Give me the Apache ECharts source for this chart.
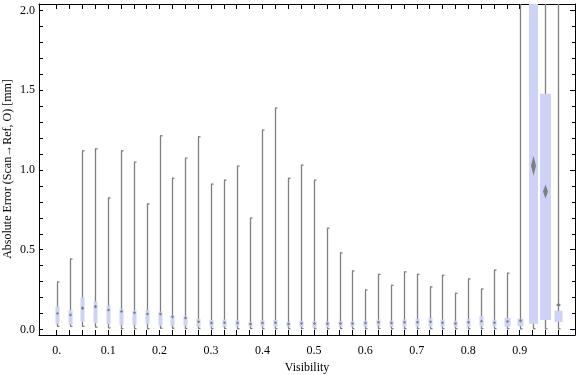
<!DOCTYPE html>
<html>
<head>
<meta charset="utf-8">
<script src="https://cdn.jsdelivr.net/npm/echarts@6/dist/echarts.min.js"></script>
<style>
  html, body { margin: 0; background: #fff; }
  #chart { width: 576px; height: 375px; }
</style>
</head>
<body>
<div id="chart"></div>
<script>
// box-whisker summary per visibility bin
const visibility = [0, 0.025, 0.05, 0.075, 0.1, 0.125, 0.15, 0.175, 0.2, 0.225,
  0.25, 0.275, 0.3, 0.325, 0.35, 0.375, 0.4, 0.425, 0.45, 0.475,
  0.5, 0.525, 0.55, 0.575, 0.6, 0.625, 0.65, 0.675, 0.7, 0.725,
  0.75, 0.775, 0.8, 0.825, 0.85, 0.875, 0.9, 0.925, 0.95, 0.975];
const whiskerMin = [0.02, 0.02, 0.02, 0.015, 0.01, 0.005, 0.005, 0.005, 0.008, 0.008,
  0.006, 0.006, 0.005, 0.006, 0.005, 0.006, 0.005, 0.005, 0.005, 0.006,
  0.004, 0.005, 0.006, 0.005, 0.005, 0.006, 0.005, 0.005, 0.005, 0.005,
  0.005, 0.005, 0.004, 0.005, 0.005, 0.005, 0.004, 0.005, 0.004, 0.004];
const q1 = [0.035, 0.033, 0.049, 0.039, 0.035, 0.028, 0.028, 0.033, 0.024, 0.024,
  0.022, 0.018, 0.016, 0.018, 0.018, 0.018, 0.018, 0.018, 0.018, 0.016,
  0.011, 0.014, 0.018, 0.018, 0.018, 0.024, 0.018, 0.018, 0.018, 0.018,
  0.018, 0.016, 0.016, 0.018, 0.018, 0.018, 0.022, 0.036, 0.06, 0.047];
const q3 = [0.143, 0.122, 0.2, 0.175, 0.149, 0.13, 0.122, 0.122, 0.112, 0.091,
  0.087, 0.066, 0.06, 0.062, 0.058, 0.047, 0.058, 0.06, 0.047, 0.053,
  0.053, 0.05, 0.053, 0.053, 0.056, 0.062, 0.056, 0.064, 0.066, 0.072,
  0.062, 0.055, 0.066, 0.085, 0.062, 0.072, 0.068, 2.4, 1.477, 0.118];
const whiskerMax = [0.298, 0.442, 1.12, 1.132, 0.825, 1.12, 1.049, 0.787, 1.214, 0.948,
  1.074, 1.208, 0.911, 0.936, 1.024, 0.698, 1.25, 1.388, 0.948, 1.03,
  0.936, 0.635, 0.48, 0.367, 0.248, 0.346, 0.277, 0.361, 0.346, 0.267,
  0.34, 0.227, 0.317, 0.254, 0.373, 0.353, 2.6, 2.9, 2.5, 2.7];
const means = [0.1, 0.091, 0.133, 0.143, 0.122, 0.112, 0.105, 0.097, 0.097, 0.08,
  0.072, 0.049, 0.04, 0.042, 0.04, 0.035, 0.04, 0.042, 0.035, 0.038,
  0.037, 0.036, 0.037, 0.037, 0.04, 0.045, 0.04, 0.045, 0.045, 0.048,
  0.042, 0.038, 0.045, 0.052, 0.042, 0.05, 0.055, 1.026, 0.865, 0.154];
const meanCI = [0.008, 0.008, 0.012, 0.012, 0.01, 0.008, 0.008, 0.008, 0.008, 0.006,
  0.006, 0.006, 0.005, 0.005, 0.005, 0.005, 0.005, 0.005, 0.005, 0.005,
  0.005, 0.005, 0.005, 0.005, 0.005, 0.005, 0.005, 0.005, 0.005, 0.005,
  0.005, 0.005, 0.005, 0.005, 0.005, 0.006, 0.012, 0.063, 0.044, 0.012];

const xLabels = [0, 0.1, 0.2, 0.3, 0.4, 0.5, 0.6, 0.7, 0.8, 0.9];
const yLabels = [0, 0.5, 1, 1.5, 2];
const yMinor = [0, 0.1, 0.2, 0.3, 0.4, 0.5, 0.6, 0.7, 0.8, 0.9, 1, 1.1, 1.2, 1.3,
  1.4, 1.5, 1.6, 1.7, 1.8, 1.9, 2];
const Y_TITLE = 'Absolute Error (Scan\u2192Ref, O) [mm]';

const X_MIN = -0.0344, X_MAX = 1.0076;
const Y_MIN = -0.0345, Y_MAX = 2.04;
const GRAY = '#7f7f7f';
const BOX = '#ccd3f6';
const FONT = { fontFamily: 'Liberation Serif', fontSize: 12, color: '#000' };
const BLACK_LINE = { color: '#000', width: 1 };

const rows = visibility.map((v, i) =>
  [v, whiskerMin[i], q1[i], q3[i], whiskerMax[i], means[i], meanCI[i]]);

function boxWidth(i) {
  if (i === 38) return 11;
  if (i === 37) return 9;
  if (i === 39) return 8;
  if (i >= 35) return 6;
  return 4;
}

function renderBox(params, api) {
  const i = params.dataIndex;
  const x = api.value(0);
  const hi = api.coord([x, api.value(4)]);
  const lo = api.coord([x, api.value(1)]);
  const b1 = api.coord([x, api.value(2)]);
  const b3 = api.coord([x, api.value(3)]);
  const m = api.coord([x, api.value(5)]);
  let mHi = api.coord([x, api.value(5) + api.value(6)])[1];
  let mLo = api.coord([x, api.value(5) - api.value(6)])[1];
  if (mLo - mHi < 3) { mHi = m[1] - 1.5; mLo = m[1] + 1.5; }
  const dw = i >= 37 ? 2.5 : 1.6;
  const cx = Math.round(hi[0]) + 0.5;
  const w = boxWidth(i);
  const line = { stroke: GRAY, lineWidth: 1.3 };
  return {
    type: 'group',
    children: [
      { type: 'line', shape: { x1: cx, y1: hi[1], x2: cx, y2: lo[1] }, style: line },
      { type: 'line', shape: { x1: cx - 0.5, y1: hi[1], x2: cx + 2, y2: hi[1] }, style: line },
      { type: 'line', shape: { x1: cx - 0.5, y1: lo[1], x2: cx + 2, y2: lo[1] }, style: line },
      { type: 'rect', shape: { x: cx - w / 2, y: b3[1], width: w, height: b1[1] - b3[1] }, style: { fill: BOX } },
      { type: 'polygon', shape: { points: [[cx, mHi], [cx + dw, m[1]], [cx, mLo], [cx - dw, m[1]]] }, style: { fill: GRAY } }
    ]
  };
}

const isMajor = v => Math.abs(v * 2 - Math.round(v * 2)) < 1e-9;

const xBase = { type: 'value', min: X_MIN, max: X_MAX, offset: 0, splitLine: { show: false } };
const yBase = { type: 'value', min: Y_MIN, max: Y_MAX, offset: 0, splitLine: { show: false } };

const chart = echarts.init(document.getElementById('chart'));
chart.setOption({
  animation: false,
  grid: { left: 39, right: 1, top: 4, bottom: 40, outerBoundsMode: 'none' },
  graphic: [{
    type: 'text', x: 8, y: 169, rotation: Math.PI / 2,
    style: { text: Y_TITLE, font: '12px "Liberation Serif"', fill: '#000', align: 'center', verticalAlign: 'middle' }
  }],
  xAxis: [
    {
      ...xBase, position: 'bottom',
      axisLine: { onZero: false, lineStyle: BLACK_LINE },
      axisTick: { inside: true, length: 5, customValues: visibility, lineStyle: BLACK_LINE },
      axisLabel: { ...FONT, margin: 10, customValues: xLabels, formatter: v => v === 0 ? '0.' : v.toFixed(1) },
      name: 'Visibility', nameLocation: 'middle', nameGap: 27, nameTextStyle: FONT
    },
    {
      ...xBase, position: 'top',
      axisLine: { onZero: false, lineStyle: BLACK_LINE },
      axisTick: { inside: true, length: 5, customValues: visibility, lineStyle: BLACK_LINE },
      axisLabel: { show: false }
    }
  ],
  yAxis: [
    {
      ...yBase, position: 'left',
      axisLine: { show: true, onZero: false, lineStyle: BLACK_LINE },
      axisTick: { inside: true, length: 4, customValues: yMinor, lineStyle: BLACK_LINE },
      axisLabel: { ...FONT, margin: 4, customValues: yMinor, formatter: v => isMajor(v) ? v.toFixed(1) : '' }
    },
    {
      ...yBase, position: 'right',
      axisLine: { show: true, onZero: false, lineStyle: BLACK_LINE },
      axisTick: { inside: true, length: 5, customValues: yLabels, lineStyle: BLACK_LINE },
      axisLabel: { show: false }
    },
    {
      ...yBase, position: 'right',
      axisLine: { show: false, onZero: false },
      axisTick: { inside: true, length: 3, customValues: yMinor, lineStyle: BLACK_LINE },
      axisLabel: { show: false }
    }
  ],
  series: [{
    type: 'custom',
    xAxisIndex: 0,
    yAxisIndex: 0,
    clip: true,
    renderItem: renderBox,
    encode: { x: 0, y: [1, 2, 3, 4] },
    data: rows
  }]
});
</script>
</body>
</html>
